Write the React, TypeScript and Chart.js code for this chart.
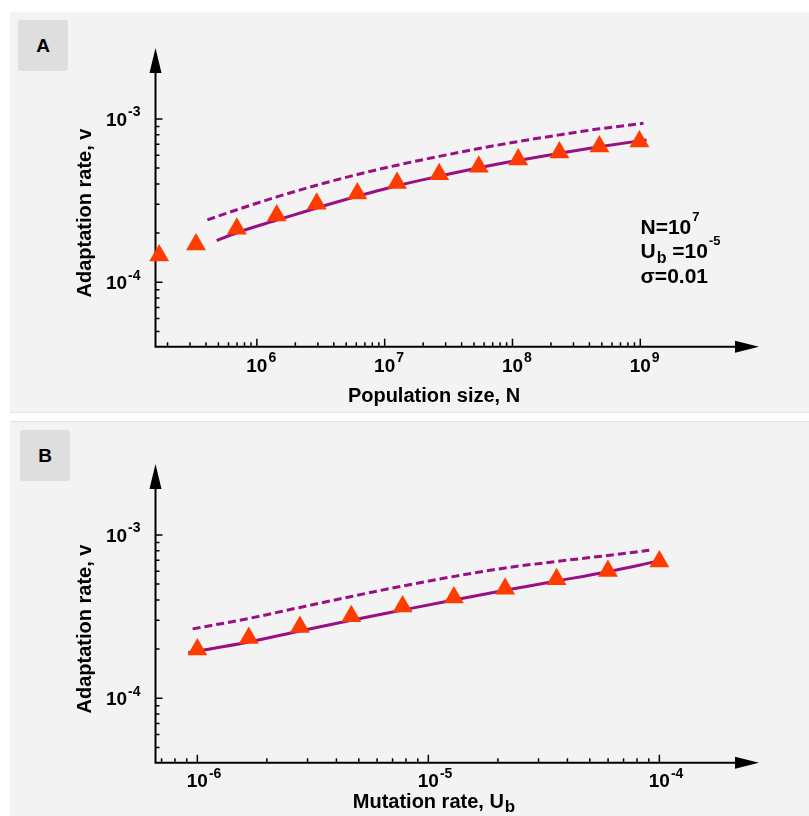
import React, { useEffect, useRef } from 'react';
import { Chart, registerables } from 'chart.js';

Chart.register(...registerables);

const FONT = '"Liberation Sans", Arial, Helvetica, sans-serif';
const PURPLE = '#990f84';
const ORANGE = '#ff3c00';
const PANEL_BG = '#f3f3f3';
const LABEL_BG = '#dedede';

// ---------- Panel A: adaptation rate vs population size ----------
const popSizeSim = [1.72e5, 3.34e5, 6.97e5, 1.43e6, 2.94e6, 6.11e6, 1.25e7, 2.67e7, 5.45e7, 1.11e8, 2.33e8, 4.79e8, 9.84e8];
const popRateSim = [1.46e-4, 1.70e-4, 2.13e-4, 2.56e-4, 3.02e-4, 3.50e-4, 4.05e-4, 4.58e-4, 5.09e-4, 5.64e-4, 6.23e-4, 6.79e-4, 7.27e-4];
const popSizeTheory = [4.85e5, 6.97e5, 1.43e6, 2.94e6, 6.11e6, 1.25e7, 2.67e7, 5.45e7, 1.11e8, 2.33e8, 4.79e8, 9.84e8, 1.12e9];
const popRateTheory = [1.80e-4, 2.01e-4, 2.40e-4, 2.85e-4, 3.36e-4, 3.90e-4, 4.46e-4, 5.02e-4, 5.58e-4, 6.16e-4, 6.75e-4, 7.34e-4, 7.44e-4];
const popSizeApprox = [4.10e5, 6.97e5, 1.43e6, 2.94e6, 6.11e6, 1.25e7, 2.67e7, 5.45e7, 1.11e8, 2.33e8, 4.79e8, 1.06e9];
const popRateApprox = [2.41e-4, 2.78e-4, 3.33e-4, 3.93e-4, 4.57e-4, 5.21e-4, 5.90e-4, 6.59e-4, 7.27e-4, 7.99e-4, 8.70e-4, 9.41e-4];

// ---------- Panel B: adaptation rate vs mutation rate ----------
const mutRateSim = [1e-6, 1.67e-6, 2.78e-6, 4.64e-6, 7.74e-6, 1.29e-5, 2.15e-5, 3.59e-5, 5.99e-5, 1e-4];
const mutAdaptSim = [1.99e-4, 2.34e-4, 2.73e-4, 3.18e-4, 3.65e-4, 4.14e-4, 4.69e-4, 5.35e-4, 6.02e-4, 6.87e-4];
const mutRateTheory = [9.14e-7, 1.67e-6, 2.78e-6, 4.64e-6, 7.74e-6, 1.29e-5, 2.15e-5, 3.59e-5, 5.99e-5, 9.57e-5];
const mutAdaptTheory = [1.90e-4, 2.21e-4, 2.58e-4, 3.00e-4, 3.47e-4, 4.00e-4, 4.58e-4, 5.22e-4, 5.96e-4, 6.84e-4];
const mutRateApprox = [9.54e-7, 1.67e-6, 2.78e-6, 4.64e-6, 7.74e-6, 1.29e-5, 2.15e-5, 3.59e-5, 5.99e-5, 9.04e-5];
const mutAdaptApprox = [2.66e-4, 3.08e-4, 3.60e-4, 4.20e-4, 4.87e-4, 5.57e-4, 6.28e-4, 6.88e-4, 7.49e-4, 8.06e-4];

// ---------- axis ranges and tick labels ----------
const popAxisRange = [1.61e5, 8.49e9];
const mutAxisRange = [6.59e-7, 2.70e-4];
const rateAxisRange = [4.03e-5, 2.72e-3];
const popMajorTicks = [1e6, 1e7, 1e8, 1e9];
const popTickExponents = ['6', '7', '8', '9'];
const mutMajorTicks = [1e-6, 1e-5, 1e-4];
const mutTickExponents = ['-6', '-5', '-4'];
const rateMajorTicks = [1e-4, 1e-3];
const rateTickExponents = ['-4', '-3'];

type Seg = { t: string; k?: 'sup' | 'sub' };

const fontOf = (size: number) => `bold ${size}px ${FONT}`;

function segMetrics(ctx: CanvasRenderingContext2D, seg: Seg, size: number, supSize: number, subSize: number) {
  const s = seg.k === 'sup' ? supSize : seg.k === 'sub' ? subSize : size;
  ctx.font = fontOf(s);
  return { s, w: ctx.measureText(seg.t).width };
}

function drawRich(
  ctx: CanvasRenderingContext2D,
  segs: Seg[],
  x: number,
  y: number,
  size: number,
  align: 'left' | 'center' | 'right',
  supSize = 13,
  supRise = 10,
  subSize = 16,
  subDrop = 4
) {
  let total = 0;
  segs.forEach((sg) => (total += segMetrics(ctx, sg, size, supSize, subSize).w + (sg.k ? 1 : 0)));
  let cx = align === 'left' ? x : align === 'center' ? x - total / 2 : x - total;
  ctx.textAlign = 'left';
  ctx.textBaseline = 'alphabetic';
  segs.forEach((sg) => {
    const m = segMetrics(ctx, sg, size, supSize, subSize);
    if (sg.k) cx += 1;
    const dy = sg.k === 'sup' ? -supRise : sg.k === 'sub' ? subDrop : 0;
    ctx.fillText(sg.t, cx, y + dy);
    cx += m.w;
  });
}

function logTicks(min: number, maxTick: number) {
  const out: number[] = [];
  const e0 = Math.floor(Math.log10(min));
  const e1 = Math.floor(Math.log10(maxTick) + 1e-9);
  for (let e = e0; e <= e1; e++) {
    for (let m = 1; m <= 9; m++) {
      const v = Number((m * Math.pow(10, e)).toPrecision(6));
      if (v > min * 1.0001 && v <= maxTick * 1.0001) out.push(v);
    }
  }
  return out;
}

const sciAxes = {
  id: 'sciAxes',
  beforeDatasetsDraw(chart: any) {
    const o = chart.options.plugins.sciAxes;
    if (!o) return;
    const ctx: CanvasRenderingContext2D = chart.ctx;
    const a = chart.chartArea;
    const xs = chart.scales.x;
    const ys = chart.scales.y;
    const x0 = a.left;
    const y0 = a.bottom;
    ctx.save();
    ctx.strokeStyle = '#000';
    ctx.fillStyle = '#000';
    ctx.lineWidth = 2;
    ctx.beginPath();
    ctx.moveTo(x0, y0);
    ctx.lineTo(a.right - 20, y0);
    ctx.moveTo(x0, y0 + 1);
    ctx.lineTo(x0, a.top + 20);
    ctx.stroke();
    ctx.beginPath();
    ctx.moveTo(a.right, y0);
    ctx.lineTo(a.right - 24, y0 - 6);
    ctx.lineTo(a.right - 24, y0 + 6);
    ctx.closePath();
    ctx.moveTo(x0, a.top);
    ctx.lineTo(x0 - 6, a.top + 25);
    ctx.lineTo(x0 + 6, a.top + 25);
    ctx.closePath();
    ctx.fill();

    // ticks
    ctx.lineWidth = 1.5;
    const xMajor: number[] = o.xMajor;
    const yMajor: number[] = o.yMajor;
    const isMajor = (list: number[], v: number) => list.some((t) => Math.abs(t - v) / t < 1e-6);
    ctx.beginPath();
    logTicks(xs.min, xMajor[xMajor.length - 1]).forEach((v) => {
      const px = xs.getPixelForValue(v);
      const len = isMajor(xMajor, v) ? 8 : 4.5;
      ctx.moveTo(px, y0);
      ctx.lineTo(px, y0 - len);
    });
    logTicks(ys.min, yMajor[yMajor.length - 1]).forEach((v) => {
      const py = ys.getPixelForValue(v);
      const len = isMajor(yMajor, v) ? 7 : 4;
      ctx.moveTo(x0, py);
      ctx.lineTo(x0 + len, py);
    });
    ctx.stroke();

    // tick labels
    xMajor.forEach((v, i) => {
      const px = xs.getPixelForValue(v);
      ctx.font = fontOf(o.xTickSize);
      const bw = ctx.measureText('10').width;
      drawRich(ctx, [{ t: '10' }, { t: o.xExp[i], k: 'sup' }], px - bw / 2, y0 + o.xTickDy, o.xTickSize, 'left', 14, 9.5);
    });
    yMajor.forEach((v, i) => {
      const py = ys.getPixelForValue(v);
      drawRich(ctx, [{ t: '10' }, { t: o.yExp[i], k: 'sup' }], x0 - 15, py + 7, 19, 'right', 14, 9.5);
    });

    // axis titles
    drawRich(ctx, o.xTitle, o.xTitleX, y0 + o.xTitleDy, 20, 'center', 13, 10, 17, 4);
    ctx.save();
    ctx.translate(x0 - 70.5, a.top + 165);
    ctx.rotate(-Math.PI / 2);
    ctx.font = fontOf(20);
    ctx.textAlign = 'center';
    ctx.textBaseline = 'middle';
    ctx.fillText(o.yTitle, 0, 0);
    ctx.restore();

    // annotation
    if (o.note) {
      o.note.forEach((line: { segs: Seg[]; y: number }) => {
        drawRich(ctx, line.segs, o.noteX, line.y, 21, 'left', 13, 13, 16, 5);
      });
    }
    ctx.restore();
  },
};

function pts(xs: number[], ys: number[]) {
  return xs.map((x, i) => ({ x, y: ys[i] }));
}

function makeConfig(p: any) {
  return {
    type: 'line',
    data: {
      datasets: [
        {
          label: 'simulation',
          data: pts(p.simX, p.simY),
          showLine: false,
          pointStyle: 'triangle',
          pointRadius: 11.5,
          pointBackgroundColor: ORANGE,
          pointBorderWidth: 0,
          order: 0,
          clip: false,
        },
        {
          label: 'theory',
          data: pts(p.thX, p.thY),
          borderColor: PURPLE,
          borderWidth: 3,
          pointRadius: 0,
          cubicInterpolationMode: 'monotone',
          order: 1,
          clip: false,
        },
        {
          label: 'approximation',
          data: pts(p.apX, p.apY),
          borderColor: PURPLE,
          borderWidth: 3,
          borderDash: [8, 4],
          pointRadius: 0,
          cubicInterpolationMode: 'monotone',
          order: 2,
          clip: false,
        },
      ],
    },
    options: {
      animation: false,
      responsive: false,
      maintainAspectRatio: false,
      devicePixelRatio: 1,
      events: [],
      layout: { padding: p.padding },
      scales: {
        x: { type: 'logarithmic', min: p.xRange[0], max: p.xRange[1], display: false, bounds: 'data' },
        y: { type: 'logarithmic', min: rateAxisRange[0], max: rateAxisRange[1], display: false, bounds: 'data' },
      },
      plugins: {
        legend: { display: false },
        tooltip: { enabled: false },
        sciAxes: p.axes,
      },
    },
    plugins: [sciAxes],
  };
}

const configA = () =>
  makeConfig({
    simX: popSizeSim,
    simY: popRateSim,
    thX: popSizeTheory,
    thY: popRateTheory,
    apX: popSizeApprox,
    apY: popRateApprox,
    xRange: popAxisRange,
    padding: { left: 145.5, right: 50, top: 36, bottom: 66.3 },
    axes: {
      xMajor: popMajorTicks,
      xExp: popTickExponents,
      yMajor: rateMajorTicks,
      yExp: rateTickExponents,
      xTickSize: 19,
      xTickDy: 25,
      xTitle: [{ t: 'Population size, N' }],
      xTitleX: 424,
      xTitleDy: 55,
      yTitle: 'Adaptation rate, v',
      noteX: 630.5,
      note: [
        { segs: [{ t: 'N=10' }, { t: '7', k: 'sup' }], y: 222 },
        { segs: [{ t: 'U' }, { t: 'b', k: 'sub' }, { t: ' =10' }, { t: '-5', k: 'sup' }], y: 246.3 },
        { segs: [{ t: 'σ=0.01' }], y: 271.3 },
      ],
    },
  });

const configB = () =>
  makeConfig({
    simX: mutRateSim,
    simY: mutAdaptSim,
    thX: mutRateTheory,
    thY: mutAdaptTheory,
    apX: mutRateApprox,
    apY: mutAdaptApprox,
    xRange: mutAxisRange,
    padding: { left: 145.5, right: 50, top: 42, bottom: 54.3 },
    axes: {
      xMajor: mutMajorTicks,
      xExp: mutTickExponents,
      yMajor: rateMajorTicks,
      yExp: rateTickExponents,
      xTickSize: 19,
      xTickDy: 24.5,
      xTitle: [{ t: 'Mutation rate, U' }, { t: 'b', k: 'sub' }],
      xTitleX: 424,
      xTitleDy: 45,
      yTitle: 'Adaptation rate, v',
    },
  });

function ChartPanel(props: {
  top: number;
  height: number;
  label: string;
  labelLeft: number;
  labelTop: number;
  config: () => any;
  border: any;
}) {
  const ref = useRef<HTMLCanvasElement>(null);
  useEffect(() => {
    const chart = new Chart(ref.current as HTMLCanvasElement, props.config() as any);
    return () => chart.destroy();
  }, []);
  return (
    <div
      style={{
        position: 'absolute',
        left: 10,
        top: props.top,
        width: 799,
        height: props.height,
        background: PANEL_BG,
        boxSizing: 'border-box',
        ...props.border,
      }}
    >
      <div
        style={{
          position: 'absolute',
          left: props.labelLeft,
          top: props.labelTop,
          width: 50,
          height: 51,
          background: LABEL_BG,
          borderRadius: 3,
          display: 'flex',
          alignItems: 'center',
          justifyContent: 'center',
          font: `bold 19px ${FONT}`,
          color: '#000',
        }}
      >
        {props.label}
      </div>
      <canvas
        ref={ref}
        width={799}
        height={props.height}
        style={{ position: 'absolute', left: 0, top: 0, display: 'block' }}
      />
    </div>
  );
}

export default function App() {
  return (
    <div
      style={{
        position: 'fixed',
        left: 0,
        top: 0,
        width: 809,
        height: 816,
        background: '#ffffff',
        overflow: 'hidden',
      }}
    >
      <ChartPanel top={12} height={401} label="A" labelLeft={8} labelTop={8} config={configA} border={{ borderBottom: '1px solid #e4e4e4' }} />
      <ChartPanel top={421} height={395} label="B" labelLeft={10} labelTop={8} config={configB} border={{ borderTop: '1px solid #e4e4e4' }} />
    </div>
  );
}
